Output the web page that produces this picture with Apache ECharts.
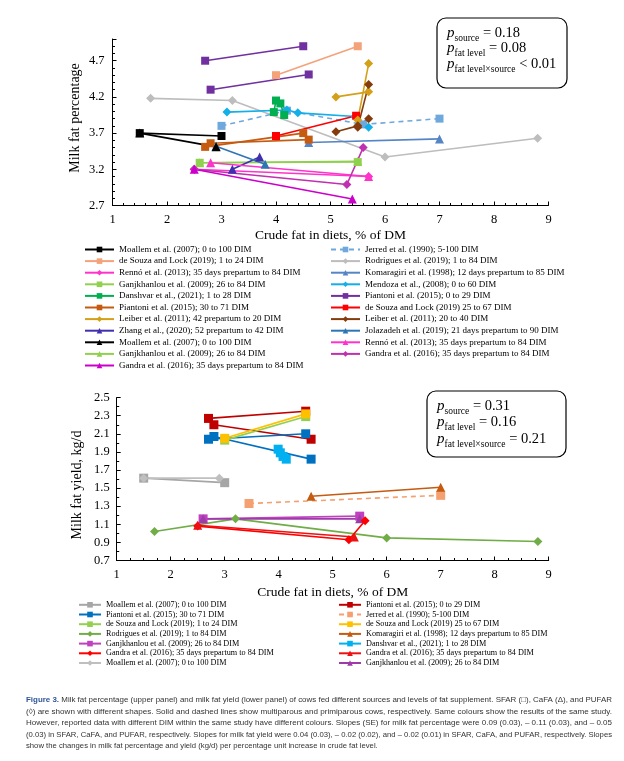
<!DOCTYPE html>
<html><head><meta charset="utf-8">
<script src="https://cdn.jsdelivr.net/npm/echarts@6/dist/echarts.min.js"></script>
<style>html,body{margin:0;padding:0;background:#fff}#c{width:624px;height:761px}</style>
</head><body><div id="c"></div>
<script>
// ================= DATA =================
// Upper panel: milk fat percentage vs crude fat (% of DM)
const upMoallemSq      = [[1.5,3.70],[3.0,3.66]];
const upJerred         = [[3.0,3.80],[4.2,4.01],[5.6,3.82],[7.0,3.90]];
const upDeSouza1       = [[4.0,4.50],[5.5,4.90]];
const upRodrigues      = [[1.7,4.18],[3.2,4.15],[6.0,3.37],[8.8,3.63]];
const upRennoDia       = [[2.5,3.20],[5.7,3.10]];
const upKomaragiri     = [[4.6,3.57],[7.0,3.62]];
const upGanjSq         = [[2.6,3.29],[5.5,3.30]];
const upMendoza        = [[3.1,3.99],[4.2,4.02],[4.4,3.98],[5.45,3.93],[5.7,3.78]];
const upDanshvar       = [[3.96,3.99],[4.0,4.15],[4.08,4.11],[4.15,3.95]];
const upPiantoni0a     = [[2.7,4.70],[4.5,4.90]];
const upPiantoni0b     = [[2.8,4.30],[4.6,4.51]];
const upPiantoni30a    = [[2.7,3.51],[4.5,3.70]];
const upPiantoni30b    = [[2.8,3.56],[4.6,3.61]];
const upDeSouza25      = [[4.0,3.66],[5.47,3.94]];
const upLeiber42a      = [[5.1,4.20],[5.7,4.27]];
const upLeiber42b      = [[5.5,3.88],[5.7,4.66]];
const upLeiber20a      = [[5.5,3.78],[5.7,4.37]];
const upLeiber20b      = [[5.1,3.72],[5.5,3.80],[5.7,3.90]];
const upZhang          = [[3.2,3.20],[3.7,3.37]];
const upJolazadeh      = [[2.9,3.52],[3.8,3.27]];
const upMoallemTri     = [[1.5,3.70],[2.9,3.51]];
const upRennoTri       = [[2.8,3.29],[5.7,3.10]];
const upGanjTri        = [[2.6,3.29],[5.5,3.31]];
const upGandraDia      = [[2.5,3.20],[5.3,2.99],[5.6,3.50]];
const upGandraTri      = [[2.5,3.20],[5.4,2.79]];

// Lower panel: milk fat yield (kg/d) vs crude fat (% of DM)
const loMoallemSq      = [[1.5,1.61],[3.0,1.56]];
const loPiantoni0a     = [[2.7,2.27],[4.5,2.35]];
const loPiantoni0b     = [[2.8,2.20],[4.6,2.04]];
const loPiantoni30a    = [[2.7,2.04],[4.5,2.10]];
const loPiantoni30b    = [[2.8,2.07],[4.6,1.82]];
const loJerred         = [[3.45,1.33],[7.0,1.42]];
const loDeSouza1       = [[3.0,2.03],[4.5,2.29]];
const loDeSouza25      = [[3.0,2.05],[4.5,2.32]];
const loRodrigues      = [[1.7,1.02],[3.2,1.16],[6.0,0.95],[8.8,0.91]];
const loKomaragiri     = [[4.6,1.41],[7.0,1.51]];
const loGanjSq         = [[2.6,1.16],[5.5,1.19]];
const loDanshvar       = [[3.99,1.93],[4.03,1.89],[4.08,1.85],[4.14,1.82]];
const loGandraDia      = [[2.5,1.08],[5.3,0.93],[5.6,1.14]];
const loGandraTri      = [[2.5,1.09],[5.4,0.96]];
const loMoallemDia     = [[1.5,1.61],[2.9,1.61]];
const loGanjTri        = [[2.6,1.16],[5.5,1.16]];

// Axis ticks
const upYTicks = {min:2.7, max:5.0, interval:0.5};
const loYTicks = {min:0.7, max:2.5, interval:0.2};
const xTicks   = {min:1, max:9, interval:1};

// Legend labels
const labels = {
 U01:'Moallem et al. (2007); 0 to 100 DIM', U02:'Jerred et al. (1990); 5-100 DIM',
 U03:'de Souza and Lock (2019); 1 to 24 DIM', U04:'Rodrigues et al. (2019); 1 to 84 DIM',
 U05:'Rennó et al. (2013); 35 days prepartum to 84 DIM', U06:'Komaragiri et al. (1998); 12 days prepartum to 85 DIM',
 U07:'Ganjkhanlou et al. (2009); 26 to 84 DIM', U08:'Mendoza et al., (2008); 0 to 60 DIM',
 U09:'Danshvar et al., (2021); 1 to 28 DIM', U10:'Piantoni et al. (2015); 0 to 29 DIM',
 U11:'Piantoni et al. (2015); 30 to 71 DIM', U12:'de Souza and Lock (2019) 25 to 67 DIM',
 U13:'Leiber et al. (2011); 42 prepartum to 20 DIM', U14:'Leiber et al. (2011); 20 to 40 DIM',
 U15:'Zhang et al., (2020); 52 prepartum to 42 DIM', U16:'Jolazadeh et al. (2019); 21 days prepartum to 90 DIM',
 U17:'Moallem et al. (2007); 0 to 100 DIM', U18:'Rennó et al. (2013); 35 days prepartum to 84 DIM',
 U19:'Ganjkhanlou et al. (2009); 26 to 84 DIM', U20:'Gandra et al. (2016); 35 days prepartum to 84 DIM',
 U21:'Gandra et al. (2016); 35 days prepartum to 84 DIM',
 L01:'Moallem et al. (2007); 0 to 100 DIM', L02:'Piantoni et al. (2015); 0 to 29 DIM',
 L03:'Piantoni et al. (2015); 30 to 71 DIM', L04:'Jerred et al. (1990); 5-100 DIM',
 L05:'de Souza and Lock (2019); 1 to 24 DIM', L06:'de Souza and Lock (2019) 25 to 67 DIM',
 L07:'Rodrigues et al. (2019); 1 to 84 DIM', L08:'Komaragiri et al. (1998); 12 days prepartum to 85 DIM',
 L09:'Ganjkhanlou et al. (2009); 26 to 84 DIM', L10:'Danshvar et al., (2021); 1 to 28 DIM',
 L11:'Gandra et al. (2016); 35 days prepartum to 84 DIM', L12:'Gandra et al. (2016); 35 days prepartum to 84 DIM',
 L13:'Moallem et al. (2007); 0 to 100 DIM', L14:'Ganjkhanlou et al. (2009); 26 to 84 DIM'
};
const upLeft  = ['U01','U03','U05','U07','U09','U11','U13','U15','U17','U19','U21'];
const upRight = ['U02','U04','U06','U08','U10','U12','U14','U16','U18','U20'];
const loLeft  = ['L01','L03','L05','L07','L09','L11','L13'];
const loRight = ['L02','L04','L06','L08','L10','L12','L14'];

const pUpper = [['source',' = 0.18'],['fat level',' = 0.08'],['fat level×source',' < 0.01']];
const pLower = [['source',' = 0.31'],['fat level',' = 0.16'],['fat level×source',' = 0.21']];

const caption = [
 ['Figure 3.',' Milk fat percentage (upper panel) and milk fat yield (lower panel) of cows fed different sources and levels of fat supplement. SFAR (□), CaFA (Δ), and PUFAR'],
 ['','(◊) are shown with different shapes. Solid and dashed lines show multiparous and primiparous cows, respectively. Same colours show the results of the same study.'],
 ['','However, reported data with different DIM within the same study have different colours. Slopes (SE) for milk fat percentage were 0.09 (0.03), – 0.11 (0.03), and – 0.05'],
 ['','(0.03) in SFAR, CaFA, and PUFAR, respectively. Slopes for milk fat yield were 0.04 (0.03), – 0.02 (0.02), and – 0.02 (0.01) in SFAR, CaFA, and PUFAR, respectively. Slopes'],
 ['','show the changes in milk fat percentage and yield (kg/d) per percentage unit increase in crude fat level.']
];

// ================= CHART =================
const SERIF = 'Liberation Serif';
function ser(id, g, color, symbol, data, o) {
  o = o || {};
  return {type:'line', name:id, xAxisIndex:g, yAxisIndex:g, data:data,
    symbol:symbol, symbolSize:o.size || (symbol==='rect'?8:9), showSymbol:true,
    lineStyle:{color:color, width:o.w||1.6, type:o.dash?[5,4]:'solid'},
    itemStyle:{color:color}, silent:true, animation:false, z:o.z||2};
}
const series = [
 ser('U04',0,'#bdbdbd','diamond',upRodrigues),
 ser('U06',0,'#5585c5','triangle',upKomaragiri),
 ser('U02',0,'#6fa8dc','rect',upJerred,{dash:true}),
 ser('U08',0,'#14aee8','diamond',upMendoza),
 ser('U07',0,'#92d050','rect',upGanjSq),
 ser('U19',0,'#8fd14f','triangle',upGanjTri),
 ser('U11',0,'#c55a11','rect',upPiantoni30a),
 ser('U11',0,'#c55a11','rect',upPiantoni30b),
 ser('U12',0,'#ff0000','rect',upDeSouza25),
 ser('U09',0,'#00b050','rect',upDanshvar),
 ser('U03',0,'#f4a27a','rect',upDeSouza1),
 ser('U10',0,'#7030a0','rect',upPiantoni0a),
 ser('U10',0,'#7030a0','rect',upPiantoni0b),
 ser('U13',0,'#d4a017','diamond',upLeiber42a),
 ser('U13',0,'#d4a017','diamond',upLeiber42b),
 ser('U14',0,'#843c0c','diamond',upLeiber20a),
 ser('U14',0,'#843c0c','diamond',upLeiber20b),
 ser('U15',0,'#4030b0','triangle',upZhang),
 ser('U16',0,'#2e75b6','triangle',upJolazadeh),
 ser('U01',0,'#000000','rect',upMoallemSq),
 ser('U17',0,'#000000','triangle',upMoallemTri),
 ser('U18',0,'#ff33cc','triangle',upRennoTri),
 ser('U05',0,'#ff33cc','diamond',upRennoDia),
 ser('U20',0,'#c030b0','diamond',upGandraDia),
 ser('U21',0,'#cc00cc','triangle',upGandraTri),

 ser('L01',1,'#a6a6a6','rect',loMoallemSq,{size:9}),
 ser('L13',1,'#bfbfbf','diamond',loMoallemDia),
 ser('L07',1,'#70ad47','diamond',loRodrigues),
 ser('L04',1,'#f4a070','rect',loJerred,{dash:true,size:9}),
 ser('L08',1,'#c55a11','triangle',loKomaragiri),
 ser('L09',1,'#c040c0','rect',loGanjSq,{size:9}),
 ser('L14',1,'#9d3ca8','triangle',loGanjTri),
 ser('L11',1,'#ff0000','diamond',loGandraDia),
 ser('L12',1,'#ee1111','triangle',loGandraTri),
 ser('L02',1,'#c00000','rect',loPiantoni0a,{size:9}),
 ser('L02',1,'#c00000','rect',loPiantoni0b,{size:9}),
 ser('L03',1,'#0070c0','rect',loPiantoni30a,{size:9}),
 ser('L03',1,'#0070c0','rect',loPiantoni30b,{size:9}),
 ser('L05',1,'#92d050','rect',loDeSouza1,{size:9}),
 ser('L06',1,'#ffc000','rect',loDeSouza25,{size:9}),
 ser('L10',1,'#00b0f0','rect',loDanshvar,{size:9})
];

function xAx(g, minorSplit) {
  return {gridIndex:g, type:'value', min:xTicks.min, max:xTicks.max, interval:xTicks.interval,
    axisLine:{show:true, onZero:false, lineStyle:{color:'#000', width:1}},
    axisTick:{show:true, inside:true, length:4, lineStyle:{color:'#000'}},
    minorTick:{show:true, splitNumber:minorSplit, length:2.5, lineStyle:{color:'#000'}},
    splitLine:{show:false},
    axisLabel:{color:'#000', fontSize:12.5, fontFamily:SERIF, margin:8},
    name:'Crude fat in diets, % of DM', nameLocation:'middle', nameGap: g===0?22.5:24.5,
    nameTextStyle:{color:'#000', fontSize:13.5, fontFamily:SERIF}};
}
function yAx(g, t, minorSplit, margin) {
  return {gridIndex:g, type:'value', min:t.min, max:t.max, interval:t.interval,
    axisLine:{show:true, onZero:false, lineStyle:{color:'#000', width:1}},
    axisTick:{show:true, inside:true, length:4, lineStyle:{color:'#000'}},
    minorTick:{show:true, splitNumber:minorSplit, length:2.5, lineStyle:{color:'#000'}},
    splitLine:{show:false},
    axisLabel:{color:'#000', fontSize:12.5, fontFamily:SERIF, margin:margin, showMaxLabel: g===1,
      formatter: v => v.toFixed(1)}};
}
function leg(ids, left, top, fs, lh, gap, iw) {
  return {orient:'vertical', left:left, top:top, padding:0, itemGap:gap, itemWidth:iw, itemHeight:7,
    selectedMode:false, data:ids, formatter: n => labels[n],
    textStyle:{fontFamily:SERIF, fontSize:fs, lineHeight:lh, color:'#000'}};
}

// p-value boxes
function pBox(list, bx, by, bw, bh, tx, ys) {
  const els = [{type:'rect', shape:{x:bx, y:by, width:bw, height:bh, r:9},
    style:{fill:'#fff', stroke:'#000', lineWidth:1.2}, z:50}];
  list.forEach((p, i) => {
    els.push({type:'text', x:tx, y:ys[i], z:51, style:{
      text:'{p|p}{s|' + p[0] + '}{v|' + p[1] + '}', verticalAlign:'middle', align:'left',
      rich:{
        p:{fontFamily:SERIF, fontStyle:'italic', fontSize:15, lineHeight:20, fill:'#000'},
        s:{fontFamily:SERIF, fontSize:9.5, lineHeight:10, verticalAlign:'bottom', fill:'#000'},
        v:{fontFamily:SERIF, fontSize:14.5, lineHeight:20, fill:'#000'}
      }}});
  });
  return els;
}

// caption (fit justified lines to the caption width)
const cv = document.createElement('canvas').getContext('2d');
const CAPF = 'Liberation Sans';
function tw(t, bold, fs) { cv.font = (bold?'bold ':'') + fs + 'px "' + CAPF + '"'; return cv.measureText(t).width; }
const capX = 26, capW = 586, capFs = 8;
const capYs = [700, 711.5, 723, 734.5, 746];
const capEls = [];
let lastScale = 1;
caption.forEach((c, i) => {
  const w = tw(c[0], true, capFs) + tw(c[1], false, capFs);
  let sc = capW / w;
  if (i === caption.length - 1) sc = lastScale; else lastScale = sc;
  capEls.push({type:'text', x:capX, y:capYs[i], scaleX:sc, z:60, style:{
    text:(c[0] ? '{b|' + c[0] + '}' : '') + '{n|' + c[1] + '}', verticalAlign:'middle', align:'left',
    rich:{
      b:{fontFamily:CAPF, fontWeight:'bold', fontSize:capFs, fill:'#2f5597'},
      n:{fontFamily:CAPF, fontSize:capFs, fill:'#333333'}
    }}});
});

const graphics = [].concat(
  pBox(pUpper, 437, 18, 130, 70, 447, [33, 48.5, 64]),
  pBox(pLower, 427, 391, 139, 66, 437, [406, 422.5, 439]),
  [{type:'text', x:75, y:118, rotation:Math.PI/2, z:40, style:{text:'Milk fat percentage', align:'center',
     verticalAlign:'middle', fontFamily:SERIF, fontSize:14, fill:'#000'}},
   {type:'text', x:77, y:485, rotation:Math.PI/2, z:40, style:{text:'Milk fat yield, kg/d', align:'center',
     verticalAlign:'middle', fontFamily:SERIF, fontSize:14, fill:'#000'}}],
  capEls
);

const option = {
  backgroundColor:'#fff', animation:false,
  textStyle:{fontFamily:SERIF},
  grid:[{left:112.5, top:39, width:436, height:166.5},
        {left:116.7, top:397.6, width:432, height:162.9}],
  xAxis:[xAx(0,5), xAx(1,4)],
  yAxis:[yAx(0, upYTicks, 5, 8), yAx(1, loYTicks, 2, 7)],
  legend:[leg(upLeft, 84, 244.5, 9, 10, 1.6, 29), leg(upRight, 330, 244.5, 9, 10, 1.6, 29),
          leg(loLeft, 78, 600.3, 8.2, 9, 0.7, 22), leg(loRight, 338, 600.3, 8.2, 9, 0.7, 22)],
  series:series,
  graphic:graphics
};
const chart = echarts.init(document.getElementById('c'), null, {renderer:'canvas'});
chart.setOption(option);
</script></body></html>
